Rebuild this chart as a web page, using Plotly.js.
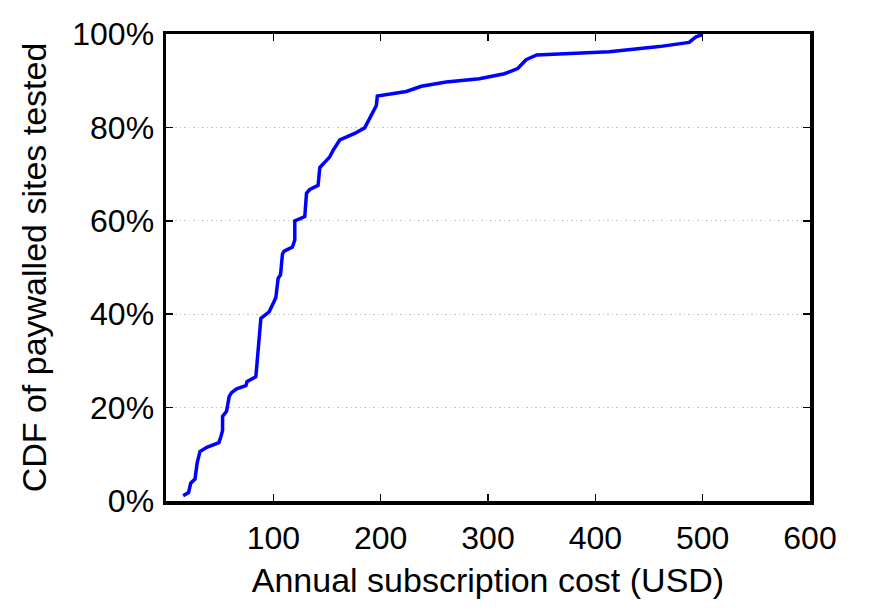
<!DOCTYPE html>
<html>
<head>
<meta charset="utf-8">
<script src="https://cdn.plot.ly/plotly-3.0.1.min.js"></script>
<style>
  html, body { margin: 0; padding: 0; background: #fff; }
  #chart { width: 872px; height: 610px; }
</style>
</head>
<body>
<div id="chart"></div>
<script>
// annual cost (USD) vs cumulative share of sites (%)
const cost = [16, 21, 23, 27, 29, 31.6, 38, 49.3, 51.2, 52.7, 52.7, 56.4, 58.9, 61.1, 65.8, 74.4, 75.6, 83.7,
  88.4, 96.1, 99.8, 102.3, 104.5, 106.7, 108.5, 110.1, 117.8, 120, 120, 129.3, 130.9, 134, 141.7, 143.3,
  152.6, 155.7, 161.9, 175.8, 185.1, 189.8, 196, 196.9, 223.9, 237.9, 261.1, 292, 298.3, 315.3, 327.7,
  335.5, 345.4, 413, 459.5, 487.4, 493.7, 499.5];
const cdf = [1.1, 1.8, 3.8, 4.7, 8.1, 10.6, 11.5, 12.5, 13.8, 15.1, 18.1, 19.2, 22.4, 23.2, 24.0, 24.7, 25.6, 26.6,
  39.1, 40.5, 42.3, 43.5, 47.7, 48.4, 52.9, 53.5, 54.4, 55.9, 60, 60.9, 65.9, 66.7, 67.6, 71.4,
  73.7, 75.1, 77.3, 78.7, 79.9, 81.9, 84.7, 86.7, 87.7, 88.8, 89.7, 90.4, 90.7, 91.5, 92.6,
  94.5, 95.5, 96.2, 97.3, 98.2, 99.4, 99.8];

const xTicks = [100, 200, 300, 400, 500, 600];
const yTicks = [0, 20, 40, 60, 80, 100];
const yTickText = ['0%', '20%', '40%', '60%', '80%', '100%'];

const fontFam = 'Liberation Sans, Arial, sans-serif';

const trace = {
  x: cost,
  y: cdf,
  type: 'scatter',
  mode: 'lines',
  line: { color: '#0000ff', width: 3.5 },
  hoverinfo: 'skip'
};

const layout = {
  width: 872,
  height: 610,
  margin: { l: 166, r: 62, t: 34, b: 109 },
  paper_bgcolor: '#fff',
  plot_bgcolor: '#fff',
  showlegend: false,
  font: { family: fontFam, size: 32, color: '#000' },
  xaxis: {
    range: [0, 600],
    tickvals: xTicks,
    ticks: 'inside',
    ticklen: 7,
    tickwidth: 1.5,
    tickcolor: '#000',
    ticklabelstandoff: 6,
    showline: true,
    linewidth: 3.5,
    linecolor: '#000',
    mirror: 'ticks',
    showgrid: false,
    zeroline: false,
    tickfont: { size: 32 },
    title: { text: 'Annual subscription cost (USD)', font: { size: 34 }, standoff: 14 }
  },
  yaxis: {
    range: [0, 100],
    tickvals: yTicks,
    ticktext: yTickText,
    ticks: 'inside',
    ticklen: 7,
    tickwidth: 1.5,
    tickcolor: '#000',
    ticklabelstandoff: 2,
    showline: true,
    linewidth: 3.5,
    linecolor: '#000',
    mirror: 'ticks',
    showgrid: true,
    gridcolor: '#c4c4c4',
    gridwidth: 1,
    griddash: '1.5px,3px',
    zeroline: false,
    tickfont: { size: 32 },
    title: { text: 'CDF of paywalled sites tested', font: { size: 34 }, standoff: 16 }
  }
};

Plotly.newPlot('chart', [trace], layout, { staticPlot: true, displayModeBar: false });
</script>
</body>
</html>
